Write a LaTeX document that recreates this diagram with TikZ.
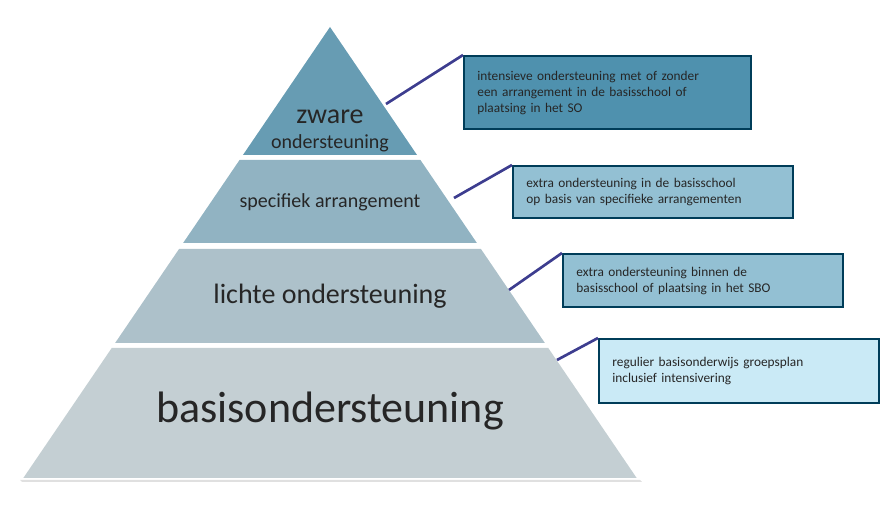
\documentclass[tikz,border=0pt]{standalone}
\usepackage{fontspec}
\setmainfont{Carlito}
\begin{document}
\begin{tikzpicture}[x=0.75pt,y=-0.75pt]
\useasboundingbox (0,0) rectangle (883,505);
\def\sl{0.68}
\newcommand\tier[3]{\fill[#3] ({330-\sl*(#1-27)},#1) -- ({330+\sl*(#1-27)},#1) -- ({330+\sl*(#2-27)},#2) -- ({330-\sl*(#2-27)},#2) -- cycle;}
\tikzset{lbl/.style={inner sep=0pt,text=black!85},
 info/.style={draw=blue!30!black!60!cyan!60!black,line width=1.6pt,anchor=north west,align=left,font=\fontsize{10}{12}\selectfont,inner sep=0pt,text=black!85},
 conn/.style={draw=blue!40!gray!80!black,line width=2pt}}
\fill[black!12] (20,480) -- (640,480) -- (642,482) -- (22,482) -- cycle;
\tier{27}{155}{cyan!40!teal!70!gray!90!white}
\tier{160}{243}{cyan!50!teal!50!gray!70!white}
\tier{249}{343}{cyan!40!teal!40!gray!55!white}
\tier{348}{478}{cyan!30!teal!30!gray!42!white}
\node[lbl,font=\fontsize{21}{24}\selectfont] (t1a) at (330,117) {zware};
\node[lbl,font=\fontsize{15}{18}\selectfont] (t1b) at (330,143) {ondersteuning};
\node[lbl,font=\fontsize{15}{18}\selectfont] (t2) at (330,202) {specifiek arrangement};
\node[lbl,font=\fontsize{21}{24}\selectfont] (t3) at (330,296) {lichte ondersteuning};
\node[lbl,font=\fontsize{33}{38}\selectfont] (t4) at (330,411) {basisondersteuning};
\node[info,fill=cyan!40!teal!80!gray,minimum width=210pt,minimum height=55pt,text width=195pt,inner xsep=10pt,inner ysep=7pt] (b1) at (463,55) {intensieve ondersteuning met of zonder\\een arrangement in de basisschool of\\plaatsing in het SO};
\node[info,fill=cyan!50!teal!50!white!85!gray,minimum width=207pt,minimum height=39pt,text width=190pt,inner xsep=10pt,inner ysep=8pt] (b2) at (512,165) {extra ondersteuning in de basisschool\\op basis van specifieke arrangementen};
\node[info,fill=cyan!50!teal!50!white!85!gray,minimum width=207pt,minimum height=40pt,text width=190pt,inner xsep=10pt,inner ysep=8pt] (b3) at (562,253) {extra ondersteuning binnen de\\basisschool of plaatsing in het SBO};
\node[info,fill=cyan!20!white!95!gray,minimum width=208pt,minimum height=48pt,text width=190pt,inner xsep=10pt,inner ysep=8pt] (b4) at (598,338) {regulier basisonderwijs groepsplan\\inclusief intensivering};
\coordinate (c1) at (386,104);
\coordinate (c2) at (454,198);
\coordinate (c3) at (509,290);
\coordinate (c4) at (557,360);
\draw[conn] (c1) -- (b1.north west);
\draw[conn] (c2) -- (b2.north west);
\draw[conn] (c3) -- (b3.north west);
\draw[conn] (c4) -- (b4.north west);
\end{tikzpicture}
\end{document}
